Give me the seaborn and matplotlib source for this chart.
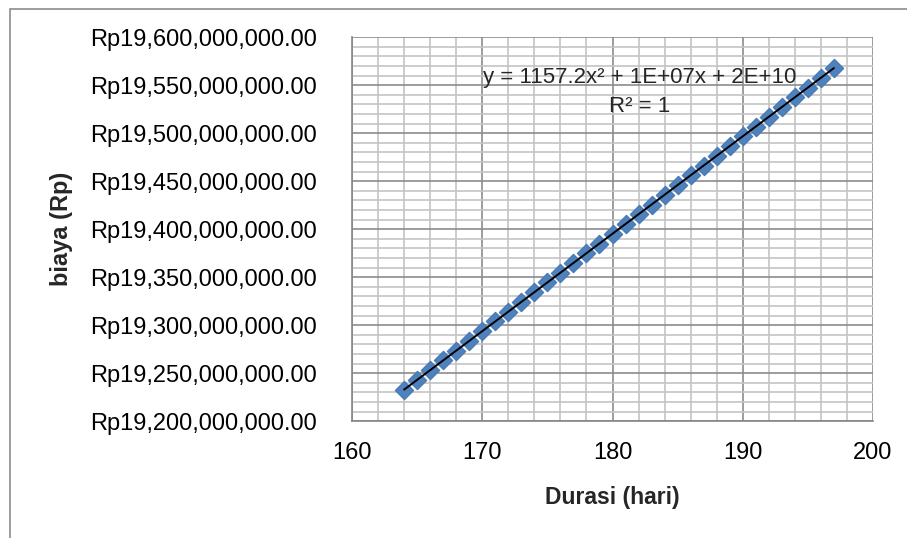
import numpy as np
import pandas as pd
import matplotlib.pyplot as plt
import seaborn as sns
from matplotlib.patches import Rectangle
from matplotlib.ticker import MultipleLocator, FuncFormatter

# Durasi (hari) and biaya (Rp)
durasi = [164, 165, 166, 167, 168, 169, 170, 171, 172, 173, 174, 175,
          176, 177, 178, 179, 180, 181, 182, 183, 184, 185, 186, 187,
          188, 189, 190, 191, 192, 193, 194, 195, 196, 197]
biaya_juta = [19233.0, 19243.1, 19253.3, 19263.4, 19273.6, 19283.7,
              19293.9, 19304.0, 19314.2, 19324.3, 19334.5, 19344.6,
              19354.8, 19364.9, 19375.1, 19385.2, 19395.4, 19405.5,
              19415.7, 19425.8, 19436.0, 19446.1, 19456.3, 19466.4,
              19476.6, 19486.7, 19496.9, 19507.0, 19517.2, 19527.3,
              19537.5, 19547.6, 19557.8, 19568.0]
persamaan = "y = 1157.2x² + 1E+07x + 2E+10\nR² = 1"

df = pd.DataFrame({"durasi": durasi, "biaya": np.array(biaya_juta) * 1e6})

sns.set_theme(style="white")
plt.rcParams["font.family"] = ["Liberation Sans", "DejaVu Sans"]

fig = plt.figure(figsize=(9.07, 5.38), dpi=100)
ax = fig.add_axes([352 / 907, 1 - 421.3 / 538, 521 / 907, 384 / 538])

# outer chart border
fig.patches.append(Rectangle((10 / 907, -0.1), 1.2, 1 - 9 / 538 + 0.1,
                             transform=fig.transFigure, fill=False,
                             edgecolor="#8c8c8c", linewidth=1.2, zorder=0))

# scatter + 2nd order trendline
sns.regplot(data=df, x="durasi", y="biaya", order=2, ci=None, ax=ax,
            marker="D",
            scatter_kws={"s": 85, "color": "#4F81BD", "edgecolor": "#4A7BB7",
                         "linewidths": 1, "alpha": 1, "zorder": 3},
            line_kws={"color": "black", "linewidth": 1.4, "zorder": 4})

ax.set_xlim(160, 200)
ax.set_ylim(19.2e9, 19.6e9)
ax.xaxis.set_major_locator(MultipleLocator(10))
ax.xaxis.set_minor_locator(MultipleLocator(2))
ax.yaxis.set_major_locator(MultipleLocator(50e6))
ax.yaxis.set_minor_locator(MultipleLocator(10e6))
ax.yaxis.set_major_formatter(FuncFormatter(lambda v, p: f"Rp{v:,.2f}"))

ax.grid(which="major", color="#8c8c8c", linewidth=1.2)
ax.grid(which="minor", color="#c4c4c4", linewidth=1.2)
ax.set_axisbelow(True)

for s in ["top", "right"]:
    ax.spines[s].set_visible(False)
for s in ["left", "bottom"]:
    ax.spines[s].set_color("#868686")
    ax.spines[s].set_linewidth(1.2)

ax.tick_params(axis="both", which="major", direction="out", length=6,
               width=1.2, color="#868686", labelsize=17, labelcolor="black")
ax.tick_params(axis="y", which="major", pad=19)
ax.tick_params(axis="x", which="major", pad=9)
ax.tick_params(which="minor", length=0)

ax.set_xlabel("Durasi (hari)", fontsize=16.5, fontweight="bold")
ax.set_ylabel("biaya (Rp)", fontsize=17, fontweight="bold")
ax.xaxis.set_label_coords(0.5, -0.198)
ax.xaxis.label.set_va("center")
ax.yaxis.set_label_coords(-0.557, 0.5)
ax.yaxis.label.set_va("center")

ax.text(0.553, 0.858, persamaan, transform=ax.transAxes, fontsize=16,
        ha="center", va="center", multialignment="center",
        linespacing=1.5, zorder=5)

fig.savefig("out.png", dpi=100)
plt.close(fig)
